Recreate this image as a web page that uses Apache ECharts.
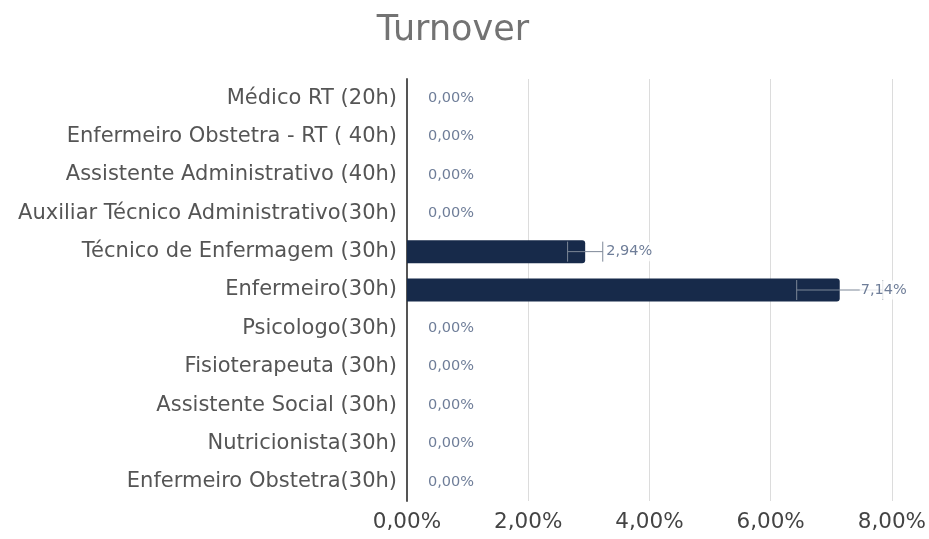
<!DOCTYPE html>
<html><head><meta charset="utf-8">
<script src="https://cdn.jsdelivr.net/npm/echarts@6/dist/echarts.min.js"></script>
<style>html,body{margin:0;padding:0;background:#fff}#c{width:929px;height:539px}</style>
</head><body><div id="c"></div>
<script>
const categories = ["Médico RT (20h)","Enfermeiro Obstetra - RT ( 40h)","Assistente Administrativo (40h)","Auxiliar Técnico Administrativo(30h)","Técnico de Enfermagem (30h)","Enfermeiro(30h)","Psicologo(30h)","Fisioterapeuta (30h)","Assistente Social (30h)","Nutricionista(30h)","Enfermeiro Obstetra(30h)"];
const values = [0, 0, 0, 0, 2.94, 7.14, 0, 0, 0, 0, 0];
const errLow = [null, null, null, null, 2.65, 6.43, null, null, null, null, null];
const errHigh = [null, null, null, null, 3.23, 7.85, null, null, null, null, null];
const xTicks = [0, 2, 4, 6, 8];

const fmt = v => v.toFixed(2).replace('.', ',') + '%';
const FONT = '"DejaVu Sans", sans-serif';

const errData = [];
categories.forEach((c, i) => { if (errLow[i] != null) errData.push([i, errLow[i], errHigh[i]]); });

const chart = echarts.init(document.getElementById('c'));
chart.setOption({
  animation: false,
  title: { text: 'Turnover', left: 448, top: 8, textAlign: 'center',
    textStyle: { fontFamily: FONT, fontSize: 35, fontWeight: 'normal', color: '#737373' } },
  grid: { left: 407, right: 36, top: 79, bottom: 38, containLabel: false },
  xAxis: { type: 'value', min: xTicks[0], max: xTicks[xTicks.length-1], interval: 2,
    axisLine: { show: false }, axisTick: { show: false },
    splitLine: { show: true, lineStyle: { color: '#dcdcdc', width: 1 } },
    axisLabel: { formatter: fmt, fontFamily: FONT, fontSize: 21.5, color: '#444', margin: 10,
      showMinLabel: true, showMaxLabel: true } },
  yAxis: { type: 'category', data: categories, inverse: true,
    axisLine: { show: true, lineStyle: { color: '#555', width: 2 } },
    axisTick: { show: false },
    axisLabel: { fontFamily: FONT, fontSize: 21, color: '#555', margin: 10 } },
  series: [
    { type: 'bar', data: values, barWidth: 23, z: 2,
      itemStyle: { color: '#172a4a', borderRadius: [0, 3, 3, 0] },
      label: { show: false } },
    { type: 'custom', z: 3, data: errData,
      renderItem: function (params, api) {
        const i = api.value(0);
        const lo = api.coord([api.value(1), i]);
        const hi = api.coord([api.value(2), i]);
        const h = 10;
        const st = { stroke: '#7d8797', lineWidth: 1 };
        return { type: 'group', children: [
          { type: 'line', shape: { x1: lo[0], y1: lo[1], x2: hi[0], y2: hi[1] }, style: st },
          { type: 'line', shape: { x1: lo[0], y1: lo[1]-h, x2: lo[0], y2: lo[1]+h }, style: st },
          { type: 'line', shape: { x1: hi[0], y1: hi[1]-h, x2: hi[0], y2: hi[1]+h }, style: st }
        ]};
      } },
    { type: 'scatter', z: 4, symbolSize: 0, silent: true,
      data: values.map((v, i) => [v, i]),
      label: { show: true, position: 'right', distance: 20,
        formatter: p => fmt(p.value[0]),
        fontFamily: FONT, fontSize: 14.5, color: '#4a5d7e', backgroundColor: '#fff', padding: [2, 1, 2, 1] } }
  ]
});
</script></body></html>
